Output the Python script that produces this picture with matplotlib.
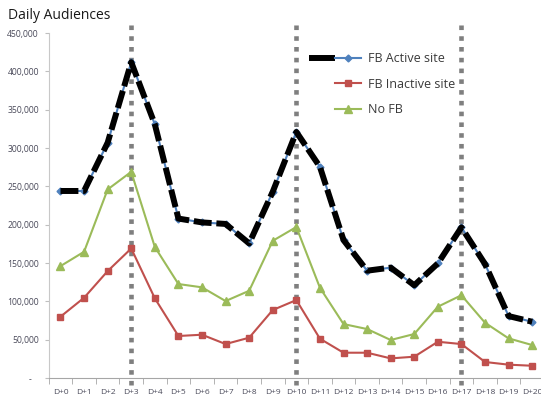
import matplotlib
matplotlib.use("Agg")
import matplotlib.pyplot as plt
from matplotlib.lines import Line2D
from matplotlib.legend_handler import HandlerTuple
from matplotlib.ticker import FuncFormatter, MultipleLocator

plt.rcParams['font.family'] = ['Open Sans', 'DejaVu Sans']

# Days after the event
days = ['D+%d' % i for i in range(21)]

# Daily audiences per site type
fb_active = [244000, 244000, 307000, 412000, 331000, 208000, 203000, 201000,
             175600, 243000, 321000, 275500, 180000, 140000, 144000, 121000,
             149500, 196500, 148700, 80800, 73400]
fb_inactive = [80000, 104700, 139500, 169000, 104000, 54800, 56500, 44300,
               52600, 88700, 101700, 51300, 33000, 33000, 25600, 27800,
               47300, 44300, 20900, 17400, 16000]
no_fb = [146000, 164700, 246000, 269000, 171000, 122600, 118300, 100400,
         113800, 179000, 197000, 117800, 70400, 63900, 49600, 57400,
         93000, 108000, 72100, 51700, 43000]

# Days marked with a vertical dotted line
marked_days = [3, 10, 17]

blue = '#4F81BD'
red = '#C0504D'
green = '#9BBB59'
grey = '#7F7F7F'
text_col = '#4a4a5a'

fig = plt.figure(figsize=(5.41, 3.99), dpi=100)
ax = fig.add_axes([0.090, 0.0526, 0.9155, 0.8645])

x = list(range(len(days)))

# vertical markers
for d in marked_days:
    ax.axvline(d, ymin=-0.02, ymax=1.03, color=grey, lw=3.3,
               dashes=(1.0, 1.35), dash_capstyle='butt', clip_on=False, zorder=1)

ax.plot(x, no_fb, color=green, lw=1.5, marker='^', ms=5.5, zorder=3)
ax.plot(x, fb_inactive, color=red, lw=1.5, marker='s', ms=5, zorder=3)
ax.plot(x, fb_active, color=blue, lw=1.5, marker='D', ms=3.5, zorder=4)
ax.plot(x, fb_active, color='black', lw=4.3, dashes=(3.0, 0.8),
        dash_capstyle='butt', zorder=5)

ax.set_xlim(-0.5, 20.5)
ax.set_ylim(0, 450000)

ax.set_xticks(x)
ax.set_xticklabels(days)
ax.xaxis.set_minor_locator(MultipleLocator(1, offset=0.5))
ax.tick_params(axis='x', which='major', length=0, pad=8, labelsize=6.0, labelcolor=text_col)
ax.tick_params(axis='x', which='minor', length=4, color='#a6a6a6', direction='out')

ax.yaxis.set_major_locator(MultipleLocator(50000))
ax.yaxis.set_major_formatter(FuncFormatter(lambda v, p: '-   ' if v == 0 else '{:,}'.format(int(v))))
ax.tick_params(axis='y', length=3, color='#bfbfbf', labelsize=6.2, labelcolor=text_col, pad=4)

for s in ['top', 'right']:
    ax.spines[s].set_visible(False)
ax.spines['left'].set_color('#c8c8c8')
ax.spines['bottom'].set_color('#a6a6a6')

fig.text(0.014, 0.962, 'Daily Audiences', fontsize=10, color='#1a1a1a', va='center', ha='left')

# legend: active shows black segment then blue segment
blank = Line2D([], [], color='none')
h_active = (Line2D([], [], color='black', lw=4.3, solid_capstyle='butt'),
            Line2D([], [], color=blue, lw=1.5, marker='D', ms=3.5))
h_inactive = (blank, Line2D([], [], color=red, lw=1.5, marker='s', ms=5))
h_nofb = (blank, Line2D([], [], color=green, lw=1.5, marker='^', ms=5.5))
leg = fig.legend([h_active, h_inactive, h_nofb],
                 ['FB Active site', 'FB Inactive site', 'No FB'],
                 handler_map={tuple: HandlerTuple(ndivide=2, pad=0)},
                 loc='upper left', bbox_to_anchor=(0.550, 0.897),
                 frameon=False, fontsize=9, handlelength=4.2,
                 handletextpad=0.5, labelspacing=1.0, labelcolor='#3a3a3a')

fig.savefig('out.png', dpi=100)
